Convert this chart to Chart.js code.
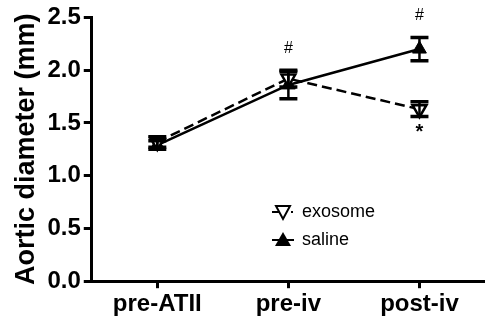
<!DOCTYPE html>
<html>
<head>
<meta charset="utf-8">
<script src="https://cdn.jsdelivr.net/npm/chart.js@4"></script>
<style>
  html, body { margin: 0; padding: 0; background: #fff; }
  #wrap { width: 485px; height: 327px; }
</style>
</head>
<body>
<div id="wrap"><canvas id="chart" width="485" height="327"></canvas></div>
<script>
// data
const categories = ['pre-ATII', 'pre-iv', 'post-iv'];
const exosomeMean = [1.32, 1.92, 1.63];
const exosomeErr = [0.05, 0.08, 0.07];
const salineMean = [1.29, 1.86, 2.20];
const salineErr = [0.04, 0.13, 0.11];
const yTicks = [0, 0.5, 1.0, 1.5, 2.0, 2.5];
// significance marks: [category index, value the mark sits near, text]
const marks = [[1, 2.20, '#'], [2, 2.52, '#'], [2, 1.41, '*']];

const FONT = "'Liberation Sans', Arial, sans-serif";

// error bars + significance marks + legend, drawn through the scales
const extras = {
    id: 'extras',
    afterDatasetsDraw(chart) {
        const ctx = chart.ctx;
        const x = chart.scales.x, y = chart.scales.y;
        ctx.save();
        ctx.strokeStyle = '#000';
        ctx.lineCap = 'butt';
        const bars = (means, errs) => {
            means.forEach((m, i) => {
                const px = x.getPixelForValue(i);
                const top = y.getPixelForValue(m + errs[i]);
                const bot = y.getPixelForValue(m - errs[i]);
                ctx.lineWidth = 2.5;
                ctx.beginPath();
                ctx.moveTo(px, top); ctx.lineTo(px, bot);
                ctx.stroke();
                ctx.lineWidth = 3.5;
                ctx.beginPath();
                ctx.moveTo(px - 9, top); ctx.lineTo(px + 9, top);
                ctx.moveTo(px - 9, bot); ctx.lineTo(px + 9, bot);
                ctx.stroke();
            });
        };
        bars(exosomeMean, exosomeErr);
        bars(salineMean, salineErr);

        ctx.fillStyle = '#000';
        ctx.textAlign = 'center';
        ctx.textBaseline = 'middle';
        marks.forEach(([i, v, t]) => {
            ctx.font = (t === '*' ? 'bold 20px ' : '16px ') + FONT;
            ctx.fillText(t, x.getPixelForValue(i), y.getPixelForValue(v));
        });

        // legend
        const lx = 283, ly1 = 212, ly2 = 240;
        ctx.lineWidth = 2;
        ctx.beginPath();
        ctx.moveTo(lx - 11, ly1); ctx.lineTo(lx - 4, ly1);
        ctx.moveTo(lx + 8, ly1); ctx.lineTo(lx + 10, ly1);
        ctx.moveTo(lx - 11, ly2); ctx.lineTo(lx + 11, ly2);
        ctx.stroke();
        // open down triangle
        ctx.beginPath();
        ctx.moveTo(lx - 7, ly1 - 6); ctx.lineTo(lx + 7, ly1 - 6); ctx.lineTo(lx, ly1 + 7);
        ctx.closePath();
        ctx.fillStyle = '#fff'; ctx.fill(); ctx.stroke();
        // filled up triangle
        ctx.beginPath();
        ctx.moveTo(lx - 8, ly2 + 6); ctx.lineTo(lx + 8, ly2 + 6); ctx.lineTo(lx, ly2 - 8);
        ctx.closePath();
        ctx.fillStyle = '#000'; ctx.fill();
        ctx.font = '18px ' + FONT;
        ctx.textAlign = 'left';
        ctx.fillText('exosome', lx + 19, ly1);
        ctx.fillText('saline', lx + 19, ly2);
        ctx.restore();
    }
};

new Chart(document.getElementById('chart'), {
    type: 'line',
    data: {
        labels: categories,
        datasets: [{
            label: 'exosome',
            data: exosomeMean,
            borderColor: '#000',
            borderWidth: 2.5,
            borderDash: [10, 5],
            pointStyle: 'triangle',
            rotation: 180,
            pointRadius: 8,
            pointBackgroundColor: '#fff',
            pointBorderColor: '#000',
            pointBorderWidth: 2.5,
            tension: 0
        }, {
            label: 'saline',
            data: salineMean,
            borderColor: '#000',
            borderWidth: 2.5,
            pointStyle: 'triangle',
            pointRadius: 8,
            pointBackgroundColor: '#000',
            pointBorderColor: '#000',
            pointBorderWidth: 1,
            tension: 0
        }]
    },
    options: {
        responsive: false,
        animation: false,
        layout: { autoPadding: false, padding: { top: 12, right: 0, left: 8, bottom: 6 } },
        plugins: { legend: { display: false }, tooltip: { enabled: false } },
        scales: {
            x: {
                offset: true,
                grid: { drawOnChartArea: false, color: '#000', lineWidth: 3, tickLength: 7 },
                border: { color: '#000', width: 3 },
                ticks: { color: '#000', font: { family: FONT, size: 24, weight: 'bold' }, padding: 2 }
            },
            y: {
                min: 0, max: 2.5,
                afterBuildTicks: (s) => { s.ticks = yTicks.map(v => ({ value: v })); },
                grid: { drawOnChartArea: false, color: '#000', lineWidth: 3, tickLength: 8 },
                border: { color: '#000', width: 3 },
                ticks: {
                    color: '#000', padding: 3,
                    font: { family: FONT, size: 24, weight: 'bold' },
                    callback: (v) => Number(v).toFixed(1)
                },
                title: {
                    display: true, text: 'Aortic diameter (mm)', color: '#000',
                    font: { family: FONT, size: 27, weight: 'bold' }, padding: 2
                }
            }
        }
    },
    plugins: [extras]
});
</script>
</body>
</html>
